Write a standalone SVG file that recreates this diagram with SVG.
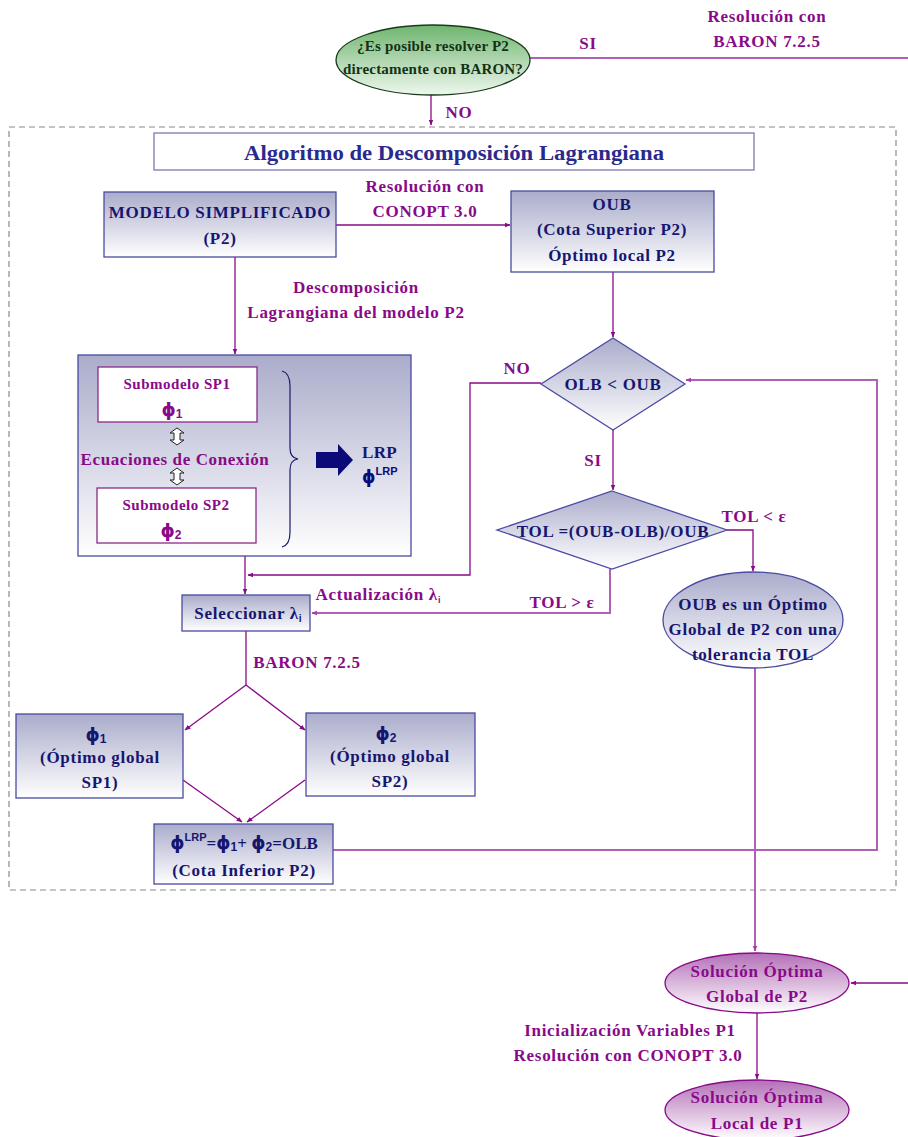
<svg xmlns="http://www.w3.org/2000/svg" width="908" height="1137" viewBox="0 0 908 1137">
<defs>
  <linearGradient id="gBlue" x1="0" y1="0" x2="0" y2="1">
    <stop offset="0" stop-color="#aaaccb"/>
    <stop offset="1" stop-color="#ffffff"/>
  </linearGradient>
  <linearGradient id="gGreen" x1="0" y1="0" x2="0" y2="1">
    <stop offset="0" stop-color="#6fb56f"/>
    <stop offset="1" stop-color="#eef7ee"/>
  </linearGradient>
  <linearGradient id="gPurple" x1="0" y1="0" x2="0" y2="1">
    <stop offset="0" stop-color="#b470b8"/>
    <stop offset="1" stop-color="#ffffff"/>
  </linearGradient>
  <marker id="arr" viewBox="0 0 10 10" refX="9" refY="5" markerWidth="6" markerHeight="6" orient="auto" markerUnits="userSpaceOnUse">
    <path d="M0,1 L10,5 L0,9 z" fill="#880a88"/>
  </marker>
  <marker id="arrL" viewBox="0 0 10 10" refX="9" refY="5" markerWidth="6" markerHeight="6" orient="auto" markerUnits="userSpaceOnUse">
    <path d="M0,1 L10,5 L0,9 z" fill="#a040a8"/>
  </marker>
</defs>
<style>
  text { font-family: "Liberation Serif", "DejaVu Serif", serif; font-weight: bold; text-anchor: middle; }
  .nv { fill: #161670; font-size: 17px; letter-spacing: 0.7px; }
  .pu { fill: #880a88; font-size: 17px; letter-spacing: 0.7px; }
  .gr { fill: #143214; font-size: 15px; letter-spacing: 0.2px; }
  .sm { font-size: 15px; letter-spacing: 0.5px; }
  .st { text-anchor: start; }
  .phi { font-family: "DejaVu Sans", sans-serif; font-weight: bold; letter-spacing: 0; }
  .sub { font-family: "Liberation Sans", sans-serif; font-weight: bold; letter-spacing: 0; }
  .box { fill: url(#gBlue); stroke: #4a4aa2; stroke-width: 1.3; }
  .wbox { fill: #ffffff; stroke: #8a2a8a; stroke-width: 1.3; }
  .ln { fill: none; stroke: #880a88; stroke-width: 1.3; }
  .lnl { fill: none; stroke: #b060b8; stroke-width: 2; }
</style>

<!-- framing rectangle of the decomposition algorithm -->
<rect x="9" y="127" width="887" height="763" fill="none" stroke="#8a8a8a" stroke-width="1.2" stroke-dasharray="6,4"/>

<!-- connectors -->
<g id="connectors">
  <line class="lnl" x1="530" y1="58" x2="908" y2="58"/>
  <line class="ln" x1="431" y1="95" x2="431" y2="125" marker-end="url(#arr)"/>
  <line class="ln" x1="336" y1="225" x2="510" y2="225" marker-end="url(#arr)"/>
  <line class="ln" x1="235" y1="257" x2="235" y2="354" marker-end="url(#arr)"/>
  <line class="ln" x1="613" y1="272" x2="613" y2="337" marker-end="url(#arr)"/>
  <polyline class="ln" points="541,383 470,383 470,575 248,575" marker-end="url(#arr)"/>
  <line class="ln" x1="245" y1="556" x2="245" y2="594" marker-end="url(#arr)"/>
  <line class="ln" x1="613" y1="430" x2="613" y2="490" marker-end="url(#arr)"/>
  <polyline class="ln" points="727,530 753,530 753,571" marker-end="url(#arr)"/>
  <polyline class="lnl" points="610,569 610,613 312,613" marker-end="url(#arrL)"/>
  <line class="ln" x1="246" y1="631" x2="246" y2="685"/>
  <line class="ln" x1="246" y1="685" x2="185" y2="730" marker-end="url(#arr)"/>
  <line class="ln" x1="246" y1="685" x2="305" y2="730" marker-end="url(#arr)"/>
  <line class="ln" x1="183" y1="780" x2="242" y2="822" marker-end="url(#arr)"/>
  <line class="ln" x1="305" y1="780" x2="247" y2="822" marker-end="url(#arr)"/>
  <polyline class="lnl" points="333,850 877,850 877,380 686,380" marker-end="url(#arrL)"/>
  <line class="lnl" x1="755" y1="668" x2="755" y2="951" marker-end="url(#arrL)"/>
  <line class="ln" x1="908" y1="983" x2="851" y2="983" marker-end="url(#arr)"/>
  <line class="ln" x1="757" y1="1013" x2="757" y2="1079" marker-end="url(#arr)"/>
</g>

<!-- connector labels -->
<g id="labels">
  <text class="pu" x="588" y="49">SI</text>
  <text class="pu" x="767" y="22">Resolución con</text>
  <text class="pu" x="767" y="47">BARON 7.2.5</text>
  <text class="pu" x="459" y="118">NO</text>
  <text class="pu" x="425" y="192">Resolución con</text>
  <text class="pu" x="425" y="217">CONOPT 3.0</text>
  <text class="pu" x="356" y="293">Descomposición</text>
  <text class="pu" x="356" y="318">Lagrangiana del modelo P2</text>
  <text class="pu" x="517" y="374">NO</text>
  <text class="pu" x="593" y="466">SI</text>
  <text class="pu" x="754" y="522">TOL &lt; ε</text>
  <text class="pu" x="562" y="608">TOL &gt; ε</text>
  <text class="pu" x="378" y="600">Actualización λ<tspan class="sub" font-size="9" dy="3">i</tspan></text>
  <text class="pu" x="307" y="668">BARON 7.2.5</text>
  <text class="pu" x="630" y="1036">Inicialización Variables P1</text>
  <text class="pu" x="628" y="1061">Resolución con CONOPT 3.0</text>
</g>

<!-- decision: direct solve -->
<g id="n-direct">
  <ellipse cx="433" cy="60" rx="97" ry="35" fill="url(#gGreen)" stroke="#1a3a1a" stroke-width="1.3"/>
  <text class="gr" x="433" y="51">¿Es posible resolver P2</text>
  <text class="gr" x="433" y="74">directamente con BARON?</text>
</g>

<!-- title -->
<g id="n-title">
  <rect x="154" y="133" width="600" height="37" fill="#ffffff" stroke="#7a7aae" stroke-width="1.3"/>
  <text x="454" y="160" fill="#2a2a8e" font-size="20" textLength="420" lengthAdjust="spacingAndGlyphs">Algoritmo de Descomposición Lagrangiana</text>
</g>

<g id="n-modelo">
  <rect class="box" x="104" y="192" width="232" height="65"/>
  <text class="nv" x="220" y="218">MODELO SIMPLIFICADO</text>
  <text class="nv" x="220" y="244">(P2)</text>
</g>

<g id="n-oub">
  <rect class="box" x="511" y="191" width="203" height="81"/>
  <text class="nv" x="612" y="210">OUB</text>
  <text class="nv" x="612" y="235">(Cota Superior P2)</text>
  <text class="nv" x="612" y="261">Óptimo local P2</text>
</g>

<g id="n-lrp">
  <rect class="box" x="78" y="355" width="333" height="201"/>
  <rect class="wbox" x="98" y="367" width="159" height="55"/>
  <text class="pu sm" x="177" y="389">Submodelo SP1</text>
  <text x="172" y="416" fill="#880a88"><tspan class="phi" font-size="18">ϕ</tspan><tspan class="sub" font-size="12" dy="2">1</tspan></text>
  <rect class="wbox" x="97" y="488" width="159" height="55"/>
  <text class="pu sm" x="176" y="510">Submodelo SP2</text>
  <text x="171" y="537" fill="#880a88"><tspan class="phi" font-size="18">ϕ</tspan><tspan class="sub" font-size="12" dy="2">2</tspan></text>
  <!-- hollow double-headed link arrows -->
  <path d="M177,428 l-7,5 h4 v7 h-4 l7,5 l7,-5 h-4 v-7 h4 z" fill="#ffffff" stroke="#222222" stroke-width="1"/>
  <path d="M177,468 l-7,5 h4 v7 h-4 l7,5 l7,-5 h-4 v-7 h4 z" fill="#ffffff" stroke="#222222" stroke-width="1"/>
  <text class="pu" x="175" y="465" font-size="16" style="letter-spacing:0.6px">Ecuaciones de Conexión</text>
  <!-- brace -->
  <path d="M282,371 Q290,373 290,386 L290,448 Q290,458 298,459 Q290,460 290,470 L290,532 Q290,545 282,547" fill="none" stroke="#1a1a70" stroke-width="1.2"/>
  <!-- block arrow -->
  <path d="M316,452 h22 v-8 l15,16 l-15,16 v-8 h-22 z" fill="#0a0a78"/>
  <text class="nv st" x="362" y="458" font-size="19" style="letter-spacing:0.3px">LRP</text>
  <text class="st" x="362" y="483" fill="#0a0a78"><tspan class="phi" font-size="17">ϕ</tspan><tspan class="sub" font-size="11" dy="-8">LRP</tspan></text>
</g>

<g id="n-cond1">
  <polygon points="613,338 685,384 613,430 541,384" fill="url(#gBlue)" stroke="#4a4aa2" stroke-width="1.3"/>
  <text class="nv" x="613" y="390">OLB &lt; OUB</text>
</g>

<g id="n-cond2">
  <polygon points="612,491 727,530 612,569 497,530" fill="url(#gBlue)" stroke="#4a4aa2" stroke-width="1.3"/>
  <text class="nv" x="613" y="537">TOL =(OUB-OLB)/OUB</text>
</g>

<g id="n-selec">
  <rect class="box" x="182" y="595" width="128" height="36"/>
  <text class="nv" x="248" y="619">Seleccionar λ<tspan class="sub" font-size="10" dy="3">i</tspan></text>
</g>

<g id="n-global-tol">
  <ellipse cx="753" cy="620" rx="90" ry="48" fill="url(#gBlue)" stroke="#4a4aa2" stroke-width="1.3"/>
  <text class="nv" x="753" y="610">OUB es un Óptimo</text>
  <text class="nv" x="753" y="635">Global de P2 con una</text>
  <text class="nv" x="753" y="660">tolerancia TOL</text>
</g>

<g id="n-sp1">
  <rect class="box" x="16" y="714" width="167" height="84"/>
  <text x="96" y="741" fill="#161670"><tspan class="phi" font-size="18">ϕ</tspan><tspan class="sub" font-size="12" dy="2">1</tspan></text>
  <text class="nv" x="100" y="763">(Óptimo global</text>
  <text class="nv" x="100" y="788">SP1)</text>
</g>

<g id="n-sp2">
  <rect class="box" x="306" y="713" width="169" height="83"/>
  <text x="386" y="740" fill="#161670"><tspan class="phi" font-size="18">ϕ</tspan><tspan class="sub" font-size="12" dy="2">2</tspan></text>
  <text class="nv" x="390" y="762">(Óptimo global</text>
  <text class="nv" x="390" y="787">SP2)</text>
</g>

<g id="n-olb">
  <rect class="box" x="154" y="824" width="179" height="60"/>
  <text x="244" y="849" fill="#161670"><tspan class="phi" font-size="18">ϕ</tspan><tspan class="sub" font-size="11" dy="-8">LRP</tspan><tspan font-size="17" dy="8">=</tspan><tspan class="phi" font-size="18">ϕ</tspan><tspan class="sub" font-size="12" dy="2">1</tspan><tspan font-size="17" dy="-2">+ </tspan><tspan class="phi" font-size="18">ϕ</tspan><tspan class="sub" font-size="12" dy="2">2</tspan><tspan font-size="17" dy="-2">=OLB</tspan></text>
  <text class="nv" x="244" y="876">(Cota Inferior P2)</text>
</g>

<g id="n-sol-p2">
  <ellipse cx="757" cy="983" rx="92" ry="30" fill="url(#gPurple)" stroke="#880a88" stroke-width="1.3"/>
  <text class="pu" x="757" y="977">Solución Óptima</text>
  <text class="pu" x="757" y="1002">Global de P2</text>
</g>

<g id="n-sol-p1">
  <ellipse cx="757" cy="1110" rx="92" ry="30" fill="url(#gPurple)" stroke="#880a88" stroke-width="1.3"/>
  <text class="pu" x="757" y="1103">Solución Óptima</text>
  <text class="pu" x="757" y="1129">Local de P1</text>
</g>
</svg>
